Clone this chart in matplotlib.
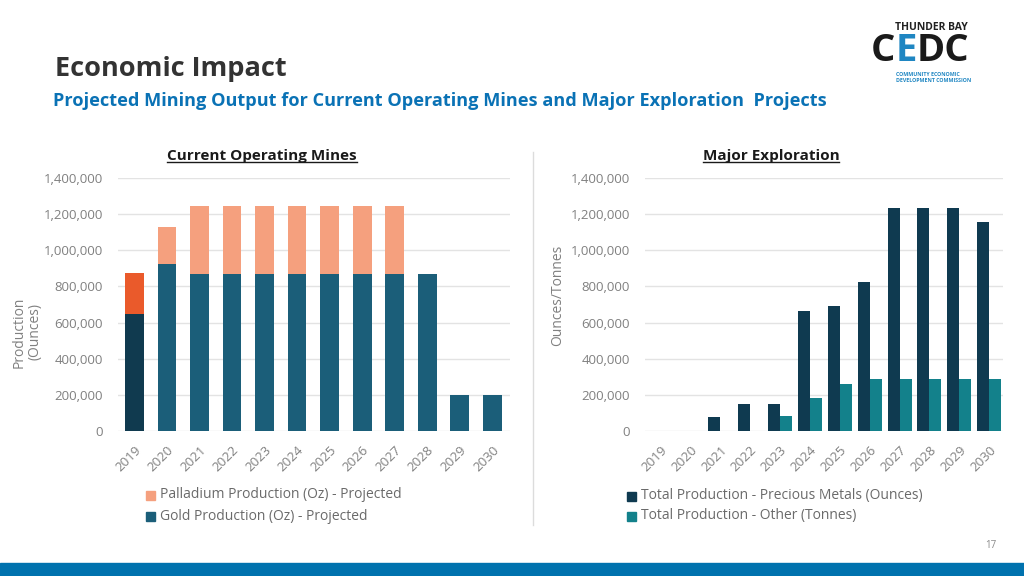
import numpy as np
import matplotlib
matplotlib.use('Agg')
import matplotlib.pyplot as plt
from matplotlib.lines import Line2D
from matplotlib.patches import Rectangle

plt.rcParams['font.family'] = ['Open Sans', 'DejaVu Sans']

## Data
years = ['2019', '2020', '2021', '2022', '2023', '2024',
         '2025', '2026', '2027', '2028', '2029', '2030']
gold_oz = [650000, 925000, 870000, 870000, 870000, 870000,
           870000, 870000, 870000, 870000, 198000, 198000]
palladium_oz = [225000, 205000, 373000, 373000, 373000, 373000,
                373000, 373000, 373000, 0, 0, 0]
precious_oz = [0, 0, 78000, 152000, 152000, 665000,
               693000, 822000, 1232000, 1232000, 1232000, 1158000]
other_t = [0, 0, 0, 0, 83000, 183000,
           262000, 288000, 288000, 288000, 288000, 288000]

yticks = [0, 200000, 400000, 600000, 800000, 1000000, 1200000, 1400000]

## Colours
c_gold = '#1b5e79'
c_gold_actual = '#103a4f'
c_pall = '#f5a07e'
c_pall_actual = '#ea5a2b'
c_prec = '#0f3a50'
c_other = '#13818b'
c_grid = '#e3e3e3'
c_tick = '#808080'

W, H = 1024, 576
fig = plt.figure(figsize=(W / 100, H / 100), dpi=100)
fig.patch.set_facecolor('white')

def fx(px):
    return px / W

def fy(py):
    return 1 - py / H

def style_axis(ax):
    ax.set_ylim(0, 1400000)
    ax.set_yticks(yticks)
    ax.set_yticklabels(['{:,}'.format(v) for v in yticks], fontsize=9.5, color=c_tick)
    ax.grid(axis='y', color=c_grid, linewidth=1)
    ax.set_axisbelow(True)
    for s in ax.spines.values():
        s.set_visible(False)
    ax.tick_params(axis='both', length=0)
    ax.tick_params(axis='y', pad=11)
    ax.set_xticks(np.arange(len(years)))
    ax.set_xticklabels(years, rotation=45, ha='right', rotation_mode='anchor',
                       fontsize=9.5, color=c_tick)
    ax.tick_params(axis='x', pad=9)

## Left chart - current operating mines
x = np.arange(len(years))
ax1 = fig.add_axes([fx(118), fy(431), fx(510 - 118), (431 - 178) / H])
gold_cols = [c_gold_actual] + [c_gold] * (len(years) - 1)
pall_cols = [c_pall_actual] + [c_pall] * (len(years) - 1)
ax1.bar(x, gold_oz, width=0.58, color=gold_cols, label='Gold Production (Oz) - Projected')
ax1.bar(x, palladium_oz, width=0.58, bottom=gold_oz, color=pall_cols,
        label='Palladium Production (Oz) - Projected')
ax1.set_xlim(-0.508, 11.55)
style_axis(ax1)

## Right chart - major exploration
ax2 = fig.add_axes([fx(645), fy(431), fx(1003 - 645), (431 - 178) / H])
bw = 0.4
ax2.bar(x - bw / 2, precious_oz, width=bw, color=c_prec)
ax2.bar(x + bw / 2, other_t, width=bw, color=c_other)
ax2.set_xlim(-0.515, 11.46)
style_axis(ax2)

## Axis titles
fig.text(fx(27), fy(332), 'Production\n(Ounces)', rotation=90, ha='center', va='center',
         fontsize=10, color=c_tick, linespacing=1.0)
fig.text(fx(558), fy(295), 'Ounces/Tonnes', rotation=90, ha='center', va='center',
         fontsize=10, color=c_tick)

## Chart titles (underlined)
t1 = fig.text(fx(262), fy(156), 'Current Operating Mines', ha='center', va='center',
              fontsize=11, fontweight='bold', color='#1a1a1a')
t2 = fig.text(fx(771), fy(156), 'Major Exploration', ha='center', va='center',
              fontsize=11, fontweight='bold', color='#1a1a1a')
fig.canvas.draw()
renderer = fig.canvas.get_renderer()
for t in (t1, t2):
    bb = t.get_window_extent(renderer)
    yl = (bb.y0 + 1) / H
    fig.add_artist(Line2D([bb.x0 / W, bb.x1 / W], [yl, yl], color='#1a1a1a', linewidth=1))

## Separator
fig.add_artist(Line2D([fx(533), fx(533)], [fy(152), fy(525)], color='#dcdcdc', linewidth=1))

## Legends
def legend_item(px, py, col, label):
    fig.add_artist(Rectangle((fx(px - 5), fy(py + 5)), 9 / W, 9 / H, color=col,
                             transform=fig.transFigure))
    fig.text(fx(px + 9), fy(py), label, ha='left', va='center', fontsize=10, color='#6a6a6a')

legend_item(151, 495, c_pall, 'Palladium Production (Oz) - Projected')
legend_item(151, 516, c_gold, 'Gold Production (Oz) - Projected')
legend_item(632, 496, c_prec, 'Total Production - Precious Metals (Ounces)')
legend_item(632, 516, c_other, 'Total Production - Other (Tonnes)')

## Header
fig.text(fx(55), fy(69), 'Economic Impact', ha='left', va='center',
         fontsize=19.5, fontweight='bold', color='#333333')
fig.text(fx(53), fy(101), 'Projected Mining Output for Current Operating Mines and Major Exploration  Projects',
         ha='left', va='center', fontsize=13.1, fontweight='bold', color='#0a72b5')

## Logo
fig.text(fx(931), fy(27), 'THUNDER BAY', ha='center', va='center',
         fontsize=7.5, fontweight='bold', color='#222222')
px = 871
for letters, col in [('C', '#1a1a1a'), ('E', '#1f86c2'), ('DC', '#1a1a1a')]:
    t = fig.text(fx(px), fy(51), letters, ha='left', va='center', fontsize=27.5,
                 fontweight='bold', color=col)
    px = px + t.get_window_extent(renderer).width
fig.text(fx(896), fy(75), 'COMMUNITY ECONOMIC', ha='left', va='center',
         fontsize=3.8, fontweight='bold', color='#1f86c2')
fig.text(fx(896), fy(81), 'DEVELOPMENT COMMISSION', ha='left', va='center',
         fontsize=3.8, fontweight='bold', color='#1f86c2')

## Footer
fig.text(fx(991), fy(545), '17', ha='center', va='center', fontsize=7, color='#8a8a8a')
fig.add_artist(Rectangle((0, 0), 1, 13 / H, color='#0072ae', transform=fig.transFigure))

fig.savefig('out.png', dpi=100, facecolor='white')
